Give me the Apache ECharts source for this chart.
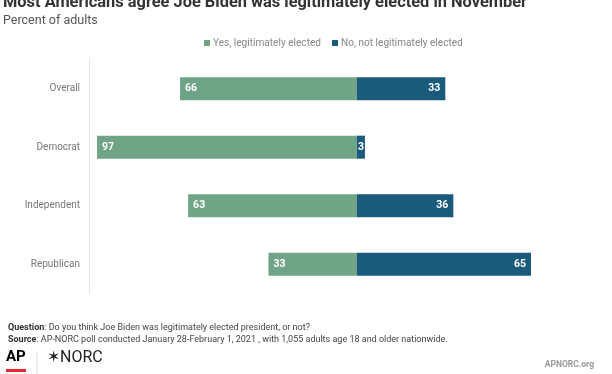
<!DOCTYPE html>
<html>
<head>
<meta charset="utf-8">
<script src="https://cdn.jsdelivr.net/npm/echarts@6/dist/echarts.min.js"></script>
<style>
html,body{margin:0;padding:0;background:#fff;}
#chart{width:612px;height:374px;}
</style>
</head>
<body>
<div id="chart"></div>
<script>
const categories = ['Overall', 'Democrat', 'Independent', 'Republican'];
const yesValues = [66, 97, 63, 33];
const noValues = [33, 3, 36, 65];
const seriesNames = ['Yes, legitimately elected', 'No, not legitimately elected'];

const GREEN = '#6fa487';
const BLUE = '#1a5b7b';

const chart = echarts.init(document.getElementById('chart'), null, {renderer: 'canvas'});
const labelBase = {show: true, color: '#fff', fontFamily: 'Roboto', fontWeight: 'bold', fontSize: 10.5,
  formatter: p => Math.abs(p.value)};

chart.setOption({
  animation: false,
  backgroundColor: '#fff',
  title: [
    {text: 'Most Americans agree Joe Biden was legitimately elected in November', left: 3, top: -5, padding: 0,
      textStyle: {fontFamily: 'Roboto', fontWeight: 'bold', fontSize: 16.4, color: '#333'}},
    {text: 'Percent of adults', left: 3, top: 14, padding: 0,
      textStyle: {fontFamily: 'Roboto', fontWeight: 'normal', fontSize: 12.5, color: '#555'}},
    {text: '{b|Question}: Do you think Joe Biden was legitimately elected president, or not?\n{b|Source}: AP-NORC poll conducted January 28-February 1, 2021 , with 1,055 adults age 18 and older nationwide.',
      left: 8, top: 322, padding: 0,
      textStyle: {fontFamily: 'Roboto', fontWeight: 'normal', fontSize: 9, color: '#444', lineHeight: 12,
        rich: {b: {fontFamily: 'Roboto', fontWeight: 'bold', fontSize: 9, color: '#333', lineHeight: 12}}}}
  ],
  legend: {
    data: seriesNames, left: 204, top: 38, itemWidth: 6, itemHeight: 6, itemGap: 11, padding: 0,
    icon: 'rect',
    textStyle: {fontFamily: 'Roboto', fontSize: 10.1, color: '#888', padding: [0, 0, 0, -2]}
  },
  grid: {left: 89, right: 14, top: 59.4, bottom: 80.6, containLabel: false},
  xAxis: {type: 'value', min: -100, max: 90, show: false},
  yAxis: {
    type: 'category', data: categories, inverse: true,
    axisLine: {show: true, onZero: false, lineStyle: {color: '#e3e3e3', width: 1}},
    axisTick: {show: false},
    axisLabel: {color: '#777', fontFamily: 'Roboto', fontSize: 10, margin: 9}
  },
  series: [
    {name: seriesNames[0], type: 'bar', stack: 'total', barWidth: 23,
      itemStyle: {color: GREEN},
      label: Object.assign({}, labelBase, {position: 'insideLeft', distance: 5}),
      data: yesValues.map(v => -v)},
    {name: seriesNames[1], type: 'bar', stack: 'total', barWidth: 23,
      itemStyle: {color: BLUE},
      label: Object.assign({}, labelBase, {position: 'insideRight', distance: 5}),
      data: noValues.map(v => v < 10 ? {value: v, label: {position: 'inside'}} : v)}
  ],
  graphic: [
    {type: 'text', left: 6, top: 350, style: {text: 'AP', fontFamily: 'Roboto', fontWeight: 'bold', fontSize: 15, fill: '#000'}},
    {type: 'rect', shape: {x: 6, y: 369, width: 20, height: 3}, style: {fill: '#e8242c'}},
    {type: 'rect', shape: {x: 36.5, y: 353, width: 1, height: 21}, style: {fill: '#ddd'}},
    {type: 'text', left: 47, top: 349.5, style: {text: '\u2736NORC', fontFamily: 'Roboto', fontSize: 16, fill: '#222'}},
    {type: 'text', right: 18, top: 360, style: {text: 'APNORC.org', fontFamily: 'Roboto', fontWeight: 'bold', fontSize: 8.5, fill: '#999'}}
  ]
});
</script>
</body>
</html>
